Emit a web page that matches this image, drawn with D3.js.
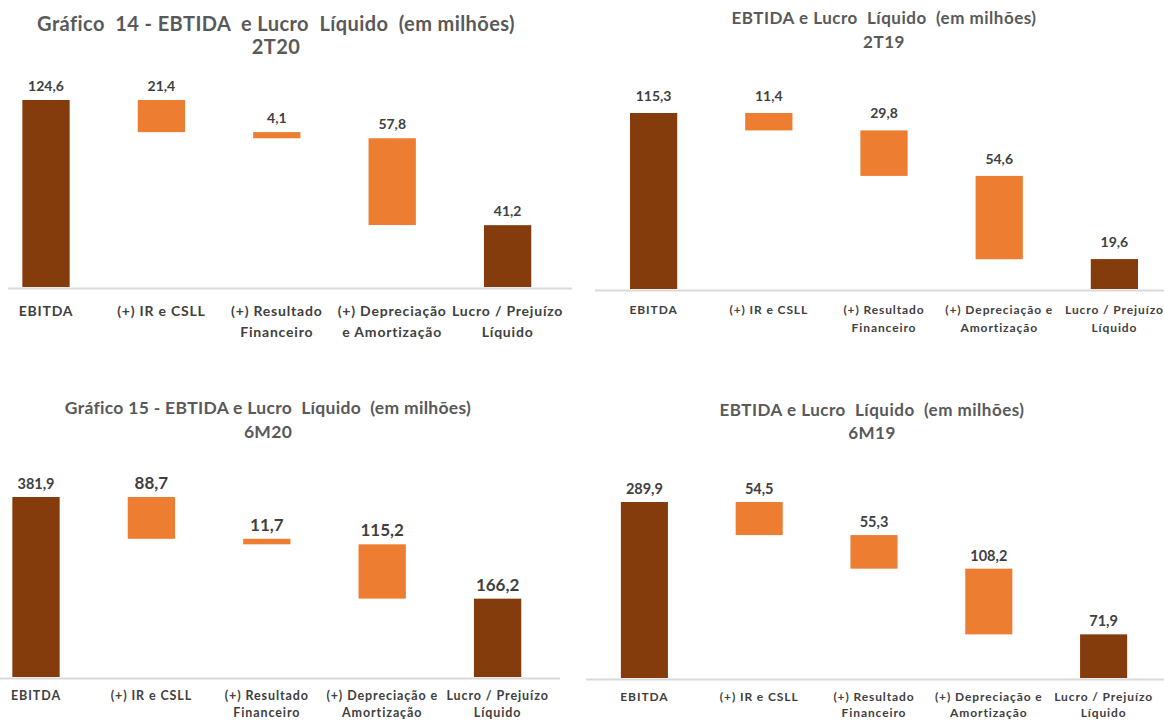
<!DOCTYPE html>
<html>
<head>
<meta charset="utf-8">
<script src="https://cdn.jsdelivr.net/npm/d3@7"></script>
<style>
  body { margin: 0; background: #fff; }
  svg { display: block; font-family: Lato, "Open Sans", sans-serif; }
  text { white-space: pre; }
</style>
</head>
<body>
<script>
// data, one entry per chart: 2T20, 2T19, 6M20, 6M19
var periods = ["2T20", "2T19", "6M20", "6M19"];
var titles = [
  "Gráfico  14 - EBTIDA  e Lucro  Líquido  (em milhões)",
  "EBTIDA e Lucro  Líquido  (em milhões)",
  "Gráfico 15 - EBTIDA e Lucro  Líquido  (em milhões)",
  "EBTIDA e Lucro  Líquido  (em milhões)"
];
var categories = ["EBITDA", "(+) IR e CSLL", "(+) Resultado Financeiro", "(+) Depreciação e Amortização", "Lucro / Prejuízo Líquido"];
var tickLinesA = [["EBITDA"], ["(+) IR e CSLL"], ["(+) Resultado", "Financeiro"], ["(+) Depreciação", "e Amortização"], ["Lucro / Prejuízo", "Líquido"]];
var tickLinesB = [["EBITDA"], ["(+) IR e CSLL"], ["(+) Resultado", "Financeiro"], ["(+) Depreciação e", "Amortização"], ["Lucro / Prejuízo", "Líquido"]];

var ebitda       = [124.6, 115.3, 381.9, 289.9];
var irCsll       = [21.4, 11.4, 88.7, 54.5];
var resultadoFin = [4.1, 29.8, 11.7, 55.3];
var depreciacao  = [57.8, 54.6, 115.2, 108.2];
var lucro        = [41.2, 19.6, 166.2, 71.9];

// layout of the four panels
var panels = [
  {x0: -11.7, x1: 565.3, base: 287, top: 100, lineX: [8, 572],    titleX: 276, titleY: 31,  titleSize: 20,   titleLs: 0.4, titleDy: 23,
   tickY: 316,   tickSize: 14,   tickLs: 0.8, tickDy: 21, lines: tickLinesA, labOff: 9,  labSize: 14,   firstSize: 14},
  {x0: 596,   x1: 1172,  base: 289, top: 113, lineX: [595, 1164], titleX: 884, titleY: 24,  titleSize: 17,   titleLs: 0.5, titleDy: 24,
   tickY: 313.5, tickSize: 12,   tickLs: 0.9, tickDy: 18, lines: tickLinesB, labOff: 12, labSize: 14,   firstSize: 14},
  {x0: -21.7, x1: 555.3, base: 677, top: 497, lineX: [0, 560],    titleX: 268, titleY: 414, titleSize: 17.5, titleLs: 0.3, titleDy: 24,
   tickY: 700,   tickSize: 12.5, tickLs: 0.9, tickDy: 16.5, lines: tickLinesB, labOff: 8,  labSize: 17,   firstSize: 14.5},
  {x0: 587,   x1: 1161,  base: 678, top: 502, lineX: [586, 1164], titleX: 872, titleY: 416, titleSize: 17,   titleLs: 0.5, titleDy: 23,
   tickY: 700.5, tickSize: 12,   tickLs: 0.9, tickDy: 16, lines: tickLinesB, labOff: 8,  labSize: 14.5, firstSize: 14.5}
];

var brown = "#843C0C", orange = "#ED7D31";
var fmt = d3.formatLocale({decimal: ",", thousands: ".", grouping: [3], currency: ["", ""]}).format(".1f");

var svg = d3.select("body")
    .append("svg")
    .attr("width", 1164)
    .attr("height", 722);

function waterfall(i) {
    var items = [irCsll[i], resultadoFin[i], depreciacao[i]];
    var rows = [{cat: categories[0], lo: 0, hi: ebitda[i], v: ebitda[i], total: true}];
    var run = ebitda[i];
    items.forEach(function (v, k) {
        rows.push({cat: categories[k + 1], lo: run - v, hi: run, v: v, total: false});
        run -= v;
    });
    rows.push({cat: categories[4], lo: 0, hi: lucro[i], v: lucro[i], total: true});
    return rows;
}

function drawPanel(i) {
    var p = panels[i];
    var rows = waterfall(i);
    var g = svg.append("g");

    var x = d3.scaleBand()
        .domain(categories)
        .range([p.x0, p.x1])
        .paddingInner(0.59)
        .paddingOuter(0.295);
    var y = d3.scaleLinear()
        .domain([0, ebitda[i]])
        .range([p.base, p.top]);

    // title
    var t = g.append("text")
        .attr("x", p.titleX)
        .attr("y", p.titleY)
        .attr("text-anchor", "middle")
        .attr("fill", "#595959")
        .attr("font-weight", "bold")
        .attr("font-size", p.titleSize)
        .attr("letter-spacing", p.titleLs);
    t.append("tspan").attr("x", p.titleX).text(titles[i]);
    t.append("tspan").attr("x", p.titleX).attr("dy", p.titleDy).text(periods[i]);

    g.selectAll("rect")
        .data(rows)
        .enter().append("rect")
        .attr("x", function (d) { return x(d.cat); })
        .attr("width", x.bandwidth())
        .attr("y", function (d) { return y(d.hi); })
        .attr("height", function (d) { return y(d.lo) - y(d.hi); })
        .attr("fill", function (d) { return d.total ? brown : orange; });

    g.selectAll(".val")
        .data(rows)
        .enter().append("text")
        .attr("class", "val")
        .attr("x", function (d) { return x(d.cat) + x.bandwidth() / 2; })
        .attr("y", function (d) { return y(d.hi) - p.labOff; })
        .attr("text-anchor", "middle")
        .attr("fill", "#404040")
        .attr("font-weight", "bold")
        .attr("font-size", function (d, k) { return k == 0 ? p.firstSize : p.labSize; })
        .text(function (d) { return fmt(d.v); });

    // baseline
    g.append("line")
        .attr("x1", p.lineX[0]).attr("x2", p.lineX[1])
        .attr("y1", p.base + 1.5).attr("y2", p.base + 1.5)
        .attr("stroke", "#d9d9d9")
        .attr("stroke-width", 2);

    // category axis
    var axis = g.append("g")
        .attr("transform", "translate(0," + p.tickY + ")")
        .call(d3.axisBottom(x).tickSize(0).tickPadding(0));
    axis.select(".domain").remove();
    axis.selectAll(".tick text")
        .attr("fill", "#404040")
        .attr("font-family", "Lato, sans-serif")
        .attr("font-weight", "bold")
        .attr("font-size", p.tickSize)
        .attr("letter-spacing", p.tickLs)
        .attr("dy", "0")
        .each(function (d, k) {
            var el = d3.select(this).text(null);
            p.lines[k].forEach(function (s, j) {
                el.append("tspan").attr("x", 0).attr("dy", j == 0 ? 0 : p.tickDy).text(s);
            });
        });
}

[0, 1, 2, 3].forEach(drawPanel);
</script>
</body>
</html>
